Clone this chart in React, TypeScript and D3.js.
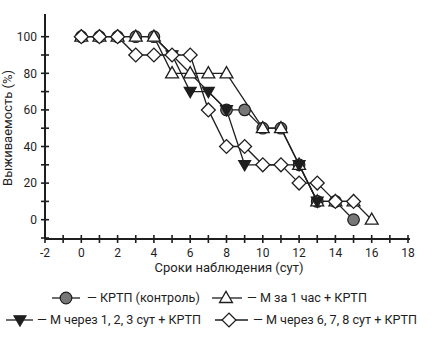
import React from "react";
import * as d3 from "d3";

const days = [0, 1, 2, 3, 4, 5, 6, 7, 8, 9, 10, 11, 12, 13, 14, 15, 16];
const control = [100, 100, 100, 100, 100, null, null, null, 60, 60, 50, 50, 30, 10, 10, 0, null];
const before1h = [100, 100, 100, 100, 100, 80, 80, 80, 80, null, 50, 50, 30, 10, 10, 10, 0];
const after123 = [null, null, null, null, 100, 90, 70, 70, 60, 30, null, null, 30, 10, null, null, null];
const after678 = [100, 100, 100, 90, 90, 90, 90, 60, 40, 40, 30, 30, 20, 20, 10, 10, null];

const xTicks = [-2, 0, 2, 4, 6, 8, 10, 12, 14, 16, 18];
const xMinor = [-1, 1, 3, 5, 7, 9, 11, 13, 15, 17];
const yTicks = [0, 20, 40, 60, 80, 100];
const yMinor = [-10, 10, 30, 50, 70, 90];

const xLabel = "Сроки наблюдения (сут)";
const yLabel = "Выживаемость (%)";
const legendLabels = [
  "— КРТП (контроль)",
  "— М за 1 час + КРТП",
  "— М через 1, 2, 3 сут + КРТП",
  "— М через 6, 7, 8 сут + КРТП",
];

const INK = "#1e1e1e";
const FONT = "Roboto, 'Open Sans', sans-serif";

type Kind = "circle" | "tri" | "tridown" | "diamond";

function Marker({ kind, x, y }: { kind: Kind; x: number; y: number }) {
  if (kind === "circle")
    return <circle cx={x} cy={y} r={5.8} fill="#777" stroke={INK} strokeWidth={1.2} />;
  if (kind === "tri") {
    const p = d3.symbol(d3.symbolTriangle, 72)();
    return <path d={p || ""} transform={`translate(${x},${y + 0.8})`} fill="#fff" stroke={INK} strokeWidth={1.3} />;
  }
  if (kind === "tridown") {
    const p = d3.symbol(d3.symbolTriangle, 62)();
    return <path d={p || ""} transform={`translate(${x},${y - 0.8}) rotate(180)`} fill={INK} stroke={INK} strokeWidth={1.2} />;
  }
  const p = d3.symbol(d3.symbolSquare, 96)();
  return <path d={p || ""} transform={`translate(${x},${y}) rotate(45)`} fill="#fff" stroke={INK} strokeWidth={1.3} />;
}

export default function App() {
  const W = 437, H = 344;
  const x = d3.scaleLinear().domain([-2, 18]).range([45, 408]);
  const y = d3.scaleLinear().domain([0, 100]).range([219.7, 36.7]);
  const axisBottom = 239;
  const axisTop = 14;

  const series: { vals: (number | null)[]; kind: Kind; markerFrom: number }[] = [
    { vals: control, kind: "circle", markerFrom: 0 },
    { vals: before1h, kind: "tri", markerFrom: 0 },
    { vals: after123, kind: "tridown", markerFrom: 5 },
    { vals: after678, kind: "diamond", markerFrom: 0 },
  ];

  const line = d3
    .line<[number, number]>()
    .x((d) => x(d[0]))
    .y((d) => y(d[1]));

  const pts = (vals: (number | null)[]) =>
    days.map((d, j) => [d, vals[j]] as [number, number | null]).filter((p) => p[1] !== null) as [number, number][];

  const legendItems = [
    { kind: "circle" as Kind, x0: 52, xm: 66, x1: 80, tx: 87, ty: 298 },
    { kind: "tri" as Kind, x0: 212, xm: 226, x1: 242, tx: 247, ty: 298 },
    { kind: "tridown" as Kind, x0: 6, xm: 20, x1: 33, tx: 37, ty: 320 },
    { kind: "diamond" as Kind, x0: 215, xm: 229, x1: 248, tx: 253, ty: 320 },
  ];

  return (
    <svg width={W} height={H} style={{ position: "absolute", left: 0, top: 0, background: "#fff" }} fontFamily={FONT}>
      <line x1={45} x2={45} y1={axisTop} y2={axisBottom} stroke={INK} strokeWidth={2} />
      <line x1={45} x2={410} y1={axisBottom} y2={axisBottom} stroke={INK} strokeWidth={2} />
      {yTicks.map((t) => (
        <g key={"yt" + t}>
          <line x1={41} x2={49} y1={y(t)} y2={y(t)} stroke={INK} strokeWidth={1.6} />
          <text x={37} y={y(t)} dy="0.35em" textAnchor="end" fontSize={12} fill={INK}>{t}</text>
        </g>
      ))}
      {yMinor.map((t) => (
        <line key={"ym" + t} x1={41} x2={49} y1={y(t)} y2={y(t)} stroke={INK} strokeWidth={1.6} />
      ))}
      {xTicks.map((t) => (
        <g key={"xt" + t}>
          <line x1={x(t)} x2={x(t)} y1={axisBottom - 4} y2={axisBottom + 4} stroke={INK} strokeWidth={1.6} />
          <text x={x(t)} y={257} textAnchor="middle" fontSize={12} fill={INK}>{t}</text>
        </g>
      ))}
      {xMinor.map((t) => (
        <line key={"xm" + t} x1={x(t)} x2={x(t)} y1={axisBottom - 4} y2={axisBottom + 4} stroke={INK} strokeWidth={1.6} />
      ))}
      <text x={229} y={272} textAnchor="middle" fontSize={13} fill={INK}>{xLabel}</text>
      <text transform={`translate(12,128) rotate(-90)`} textAnchor="middle" fontSize={13} fill={INK}>{yLabel}</text>

      {series.map((s, i) => (
        <path key={"l" + i} d={line(pts(s.vals)) || ""} fill="none" stroke={INK} strokeWidth={1.3} />
      ))}
      {series.map((s, i) => (
        <g key={"m" + i}>
          {pts(s.vals)
            .filter((p) => p[0] >= s.markerFrom)
            .map((p, j) => (
              <Marker key={j} kind={s.kind} x={x(p[0])} y={y(p[1])} />
            ))}
        </g>
      ))}

      {legendItems.map((it, i) => (
        <g key={"lg" + i}>
          <line x1={it.x0} x2={it.x1} y1={it.ty} y2={it.ty} stroke={INK} strokeWidth={1.3} />
          <Marker kind={it.kind} x={it.xm} y={it.ty} />
          <text x={it.tx} y={it.ty} dy="0.35em" fontSize={12.6} fill={INK}>{legendLabels[i]}</text>
        </g>
      ))}
    </svg>
  );
}
